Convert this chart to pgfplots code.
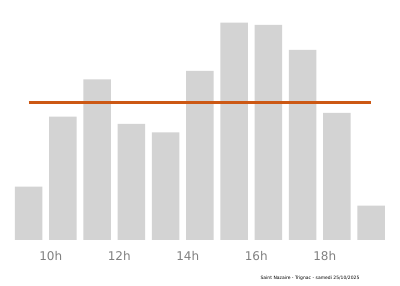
\documentclass[border=0pt]{standalone}
\usepackage{fontspec}
\setmainfont{DejaVu Sans}
\usepackage{pgfplots}
\pgfplotsset{compat=1.18}
\definecolor{bargray}{RGB}{211,211,211}
\definecolor{lineorange}{RGB}{204,88,20}
\definecolor{ticktext}{RGB}{128,128,128}
\begin{document}
\begin{tikzpicture}
\path[use as bounding box] (0,0) rectangle (400pt,286pt);
\begin{axis}[
  at={(11.4pt,46pt)}, anchor=south west,
  scale only axis, width=376.75pt, height=240pt,
  xmin=-0.5, xmax=10.5, ymin=0, ymax=240,
  axis line style={draw=none},
  ytick=\empty,
  xtick={0.65,2.65,4.65,6.65,8.65},
  xticklabels={10h,12h,14h,16h,18h},
  major tick length=0pt,
  xticklabel style={font=\fontsize{12}{14}\selectfont, text=ticktext, yshift=-8pt},
  clip=false,
]
\addplot[ybar, bar width=27.5pt, fill=bargray, draw=none] coordinates {
(0,53.3) (1,123.3) (2,160.7) (3,116) (4,107.7) (5,169) (6,217.3) (7,215) (8,190) (9,127) (10,34.3)
};
\addplot[lineorange, line width=2.5pt] coordinates {(0,137.7) (10,137.7)};
\end{axis}
\node[font=\fontsize{4.5}{5}\selectfont, text=black] at (310pt,8pt) {Saint Nazaire - Trignac - samedi 25/10/2025};
\end{tikzpicture}
\end{document}
